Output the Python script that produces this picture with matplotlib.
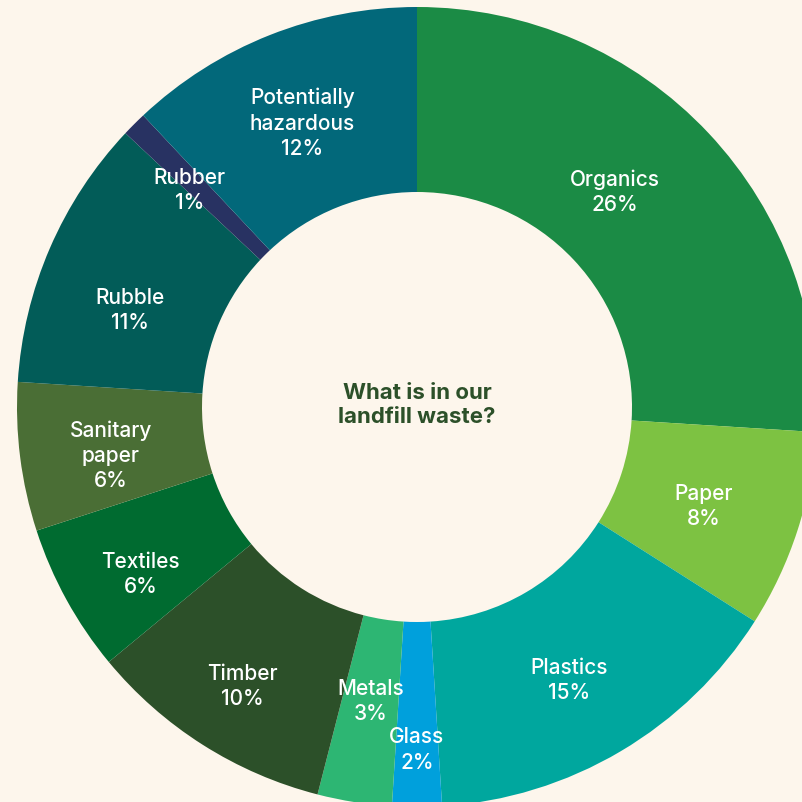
import numpy as np
import matplotlib.pyplot as plt

plt.rcParams['font.family'] = ['Inter', 'DejaVu Sans']

labels = ["Organics", "Paper", "Plastics", "Glass", "Metals", "Timber",
          "Textiles", "Sanitary\npaper", "Rubble", "Rubber", "Potentially\nhazardous"]
shares = [26, 8, 15, 2, 3, 10, 6, 6, 11, 1, 12]
colors = ["#1b8b45", "#7dc242", "#00a79e", "#00a0dc", "#2db673", "#2c5029",
          "#006b30", "#4a6e35", "#025c58", "#283262", "#02687a"]

bg = "#fdf6ec"
R_OUT = 400
R_IN = 215
# label placement: distance from centre and angular nudge (deg) off the wedge middle
label_r = [292, 303, 313, 343, 298, 330, 323, 310, 303, 314, 306]
label_nudge = [-4.2, 1.1, 1.6, 0, 0, -0.4, -2.4, -1.8, -4.9, -1.5, -0.4]

fig = plt.figure(figsize=(8.02, 8.02), dpi=100, facecolor=bg)
ax = fig.add_axes([0, 0, 1, 1])
ax.set_facecolor(bg)

wedges, _ = ax.pie(shares, colors=colors, radius=R_OUT, startangle=90,
                   counterclock=False,
                   wedgeprops=dict(width=R_OUT - R_IN, linewidth=0))

for w, lab, pct, r, nd in zip(wedges, labels, shares, label_r, label_nudge):
    # nudge is clockwise, pie angles run counter-clockwise
    mid = np.deg2rad((w.theta1 + w.theta2) / 2 - nd)
    ax.text(r * np.cos(mid), r * np.sin(mid), f"{lab}\n{pct}%",
            ha="center", va="center", color="white", fontsize=15,
            fontweight=500, linespacing=1.32)

ax.text(0, 2, "What is in our\nlandfill waste?", ha="center", va="center",
        color="#2c5029", fontsize=16, fontweight="bold", linespacing=1.3)

# centre sits at (417, 407) px; ring runs off the right and bottom edges
ax.set_xlim(-417, 802 - 417)
ax.set_ylim(-(802 - 407), 407)
ax.set_aspect("equal")
ax.axis("off")

fig.savefig("out.png", dpi=100, facecolor=bg)
